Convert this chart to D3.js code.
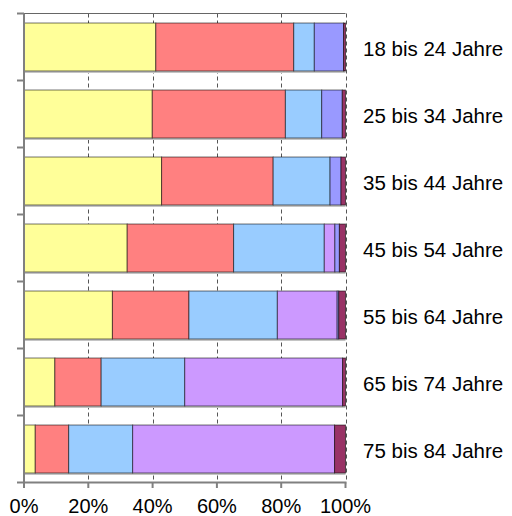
<!DOCTYPE html>
<html>
<head>
<meta charset="utf-8">
<script src="https://cdn.jsdelivr.net/npm/d3@7"></script>
<style>
  html, body { margin: 0; padding: 0; background: #fff; }
  svg { display: block; }
  text { font-family: "Liberation Sans", Arial, sans-serif; fill: #000; }
</style>
</head>
<body>
<svg id="chart" width="512" height="516"></svg>
<script>
// Categories (top to bottom)
const categories = ["18 bis 24 Jahre", "25 bis 34 Jahre", "35 bis 44 Jahre", "45 bis 54 Jahre", "55 bis 64 Jahre", "65 bis 74 Jahre", "75 bis 84 Jahre"];
// Series values (percent shares, stacked left to right)
const seriesYellow = [41.0, 39.9, 42.8, 32.1, 27.5, 9.6, 3.5];
const seriesRed    = [42.9, 41.4, 34.7, 33.1, 23.8, 14.4, 10.4];
const seriesBlue   = [6.4, 11.3, 17.7, 28.2, 27.5, 26.0, 19.9];
const seriesPurple = [0.0, 0.0, 0.0, 3.3, 18.6, 49.1, 62.8];
const seriesViolet = [9.1, 6.4, 3.4, 1.4, 0.5, 0.0, 0.0];
const seriesMaroon = [0.6, 1.0, 1.4, 1.9, 2.1, 0.9, 3.4];
const seriesColors = ["#FFFF99", "#FF8080", "#99CCFF", "#CC99FF", "#9999FF", "#993366"];
const tickValues = [0, 20, 40, 60, 80, 100];

const allSeries = [seriesYellow, seriesRed, seriesBlue, seriesPurple, seriesViolet, seriesMaroon];
const rows = categories.map((c, i) => {
  const o = { cat: c };
  allSeries.forEach((s, k) => { o["s" + k] = s[i]; });
  return o;
});
const keys = allSeries.map((_, k) => "s" + k);
const stacked = d3.stack().keys(keys)(rows);

const svg = d3.select("#chart");
const x = d3.scaleLinear().domain([0, 100]).range([24, 345.5]);
const y = d3.scaleBand().domain(categories).range([13.5, 482.5]).paddingInner(0.284).paddingOuter(0.142);
const step = y.step();

// grid lines (dashed)
svg.append("g").selectAll("line").data(tickValues.slice(1)).join("line")
  .attr("x1", d => Math.round(x(d)) + 0.5).attr("x2", d => Math.round(x(d)) + 0.5)
  .attr("y1", 13.5).attr("y2", 482.5)
  .attr("stroke", "#555").attr("stroke-width", 1).attr("stroke-dasharray", "4,3");

// top border
svg.append("line").attr("x1", x(0)).attr("x2", x(100)).attr("y1", 13.5).attr("y2", 13.5)
  .attr("stroke", "#666").attr("stroke-width", 1);

// bar shadows
svg.append("g").selectAll("rect").data(categories).join("rect")
  .attr("x", x(0)).attr("y", d => y(d) + 2)
  .attr("width", x(100) - x(0)).attr("height", y.bandwidth())
  .attr("fill", "#c4c4c4");

// bars
svg.append("g").selectAll("g").data(stacked).join("g")
  .attr("fill", (d, i) => seriesColors[i])
  .selectAll("rect").data(d => d.filter(v => v[1] - v[0] > 0)).join("rect")
  .attr("x", d => x(d[0])).attr("y", d => y(d.data.cat))
  .attr("width", d => x(d[1]) - x(d[0])).attr("height", y.bandwidth())
  .attr("stroke", "rgba(0,0,0,0.55)").attr("stroke-width", 1);

// left axis
svg.append("line").attr("x1", 24).attr("x2", 24).attr("y1", 13.5).attr("y2", 483.5)
  .attr("stroke", "#808080").attr("stroke-width", 2);
// y ticks at band boundaries
const bounds = d3.range(categories.length + 1).map(i => 13.5 + i * step);
svg.append("g").selectAll("line").data(bounds).join("line")
  .attr("x1", 17).attr("x2", 24).attr("y1", d => d).attr("y2", d => d)
  .attr("stroke", "#808080").attr("stroke-width", 2);

// bottom axis
svg.append("line").attr("x1", 23).attr("x2", x(100) + 1).attr("y1", 482.5).attr("y2", 482.5)
  .attr("stroke", "#808080").attr("stroke-width", 2);
svg.append("g").selectAll("line").data(tickValues).join("line")
  .attr("x1", d => x(d)).attr("x2", d => x(d)).attr("y1", 482.5).attr("y2", 488)
  .attr("stroke", "#808080").attr("stroke-width", 2);

// x tick labels
svg.append("g").selectAll("text").data(tickValues).join("text")
  .attr("x", d => x(d)).attr("y", 512.5)
  .attr("text-anchor", "middle").attr("font-size", 20)
  .text(d => d + "%");

// category labels
svg.append("g").selectAll("text").data(categories).join("text")
  .attr("x", 363).attr("y", d => y(d) + y.bandwidth() / 2 + 8.5)
  .attr("font-size", 20.5)
  .text(d => d);
</script>
</body>
</html>
